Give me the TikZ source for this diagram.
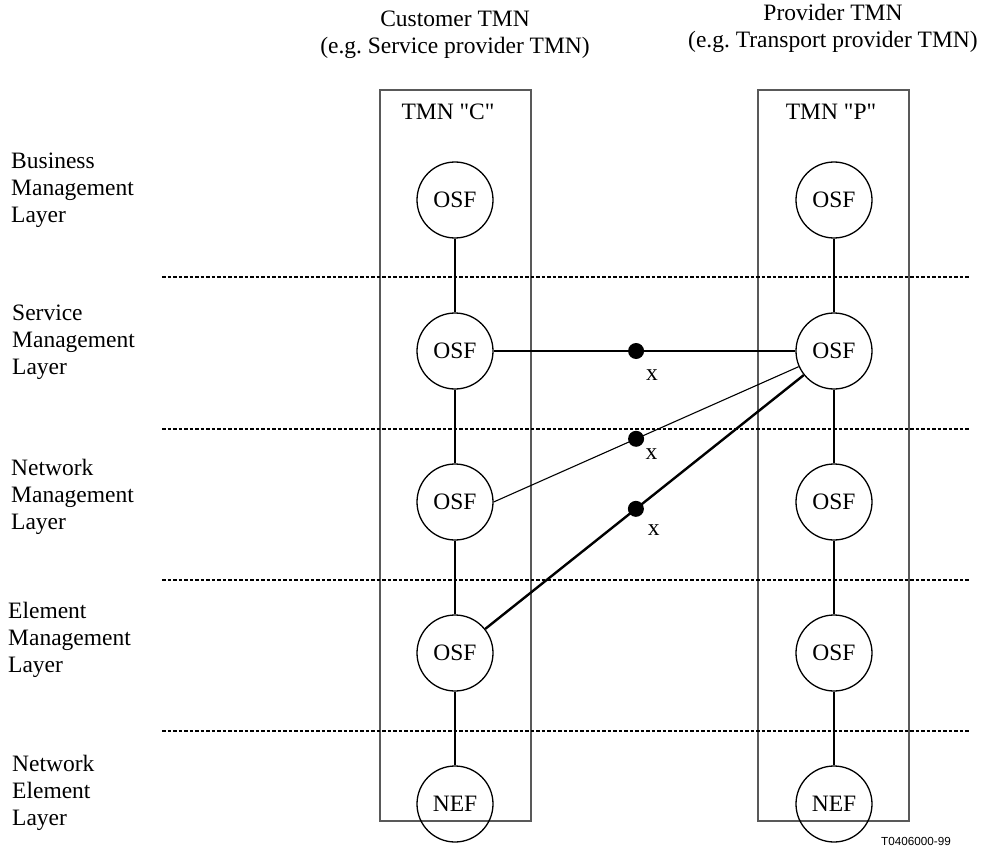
\documentclass[tikz,border=0pt]{standalone}
\usepackage{fontspec}
\setmainfont{Liberation Serif}[Ligatures=TeXOff]
\newfontfamily\figfont{Liberation Sans}
\usetikzlibrary{positioning}
\frenchspacing

\begin{document}
\begin{tikzpicture}[x=1pt,y=-1pt,node distance=151pt,
  font=\fontsize{23.5}{27}\selectfont,
  fn/.style={draw,circle,minimum size=76pt,inner sep=0pt,line width=1.3pt},
  tmnbox/.style={draw=black!65,line width=1.3pt,minimum width=151pt,minimum height=731pt,inner sep=0pt},
  layerline/.style={dash pattern=on 3.5pt off 2pt,line width=2pt},
  link/.style={line width=2.4pt},
  thinlink/.style={line width=1.1pt},
  dot/.style={circle,fill,minimum size=16pt,inner sep=0pt},
  xlab/.style={inner sep=0pt},
  lbl/.style={align=left,anchor=west,inner sep=0pt}]
\useasboundingbox (0,0) rectangle (994,848);

% the two TMNs
\node[tmnbox] (boxC) at (455.5,455.5) {};
\node[tmnbox] (boxP) at (833.5,455.5) {};
\node[align=center] (titleC) at (455,35) {Customer TMN\\(e.g. Service provider TMN)};
\node[align=center] (titleP) at (833,28) {Provider TMN\\(e.g. Transport provider TMN)};
\node (labC) at (448,112) {TMN "C"};
\node (labP) at (831,112) {TMN "P"};

% layer borders
\foreach \y in {276.5,428.5,579.5,730.5}
  \draw[layerline] (162,\y) -- (969,\y);

\node[lbl] (bml) at (11,190) {Business\\Management\\Layer};
\node[lbl] (sml) at (12,342) {Service\\Management\\Layer};
\node[lbl] (nml) at (11,497) {Network\\Management\\Layer};
\node[lbl] (eml) at (8,640) {Element\\Management\\Layer};
\node[lbl] (nel) at (12,793) {Network\\Element\\Layer};

% function blocks
\node[fn] (c1) at (455,200) {OSF};
\node[fn,below of=c1] (c2) {OSF};
\node[fn,below of=c2] (c3) {OSF};
\node[fn,below of=c3] (c4) {OSF};
\node[fn,below of=c4] (c5) {NEF};
\node[fn] (p1) at (834,200) {OSF};
\node[fn,below of=p1] (p2) {OSF};
\node[fn,below of=p2] (p3) {OSF};
\node[fn,below of=p3] (p4) {OSF};
\node[fn,below of=p4] (p5) {NEF};

\draw[link] (c1) -- (c2) -- (c3) -- (c4) -- (c5);
\draw[link] (p1) -- (p2) -- (p3) -- (p4) -- (p5);

% x reference points
\draw[link] (c2) -- node[dot,pos=0.472] (d1) {} (p2);
\draw[thinlink] (c3.east) -- node[dot,pos=0.467] (d2) {} (p2);
\draw[link] (c4) -- node[dot,pos=0.473] (d3) {} (p2);
\node[xlab,below right=11.8pt and 3.3pt of d1] (x1) {x};
\node[xlab,below right=4pt and 3.3pt of d2] (x2) {x};
\node[xlab,below right=8.8pt and 5.3pt of d3] (x3) {x};

\node[font=\figfont\fontsize{11.7}{14}\selectfont] (fig) at (916,841) {T0406000-99};
\end{tikzpicture}
\end{document}
